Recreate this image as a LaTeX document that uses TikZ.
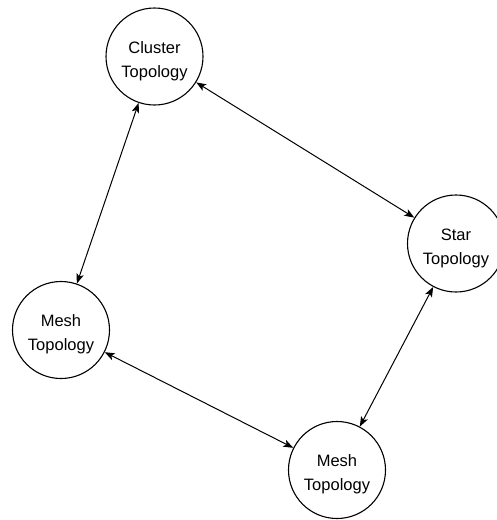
\documentclass[tikz,border=0pt]{standalone}
\usepackage{fontspec}
\setmainfont{Liberation Sans}
\usetikzlibrary{arrows.meta}
\begin{document}
\begin{tikzpicture}[x=1pt,y=-1pt,
  topo/.style={draw, circle, line width=1.1pt, minimum size=97pt, inner sep=0pt},
  caption/.style={align=center, font=\fontsize{16.5}{24}\selectfont, yshift=-4.5pt},
  link/.style={line width=1pt, {Stealth[length=10pt,width=7.5pt,inset=2.5pt]}-{Stealth[length=10pt,width=7.5pt,inset=2.5pt]}}]
  \useasboundingbox (0,0) rectangle (496,520);
  \node[topo, label={[caption]center:Cluster\\Topology}] (cluster) at (154.5,56.5) {};
  \node[topo, label={[caption]center:Star\\Topology}] (star) at (456,243.5) {};
  \node[topo, label={[caption]center:Mesh\\Topology}] (meshl) at (61,330) {};
  \node[topo, label={[caption]center:Mesh\\Topology}] (meshb) at (337,470) {};
  \draw[link] (cluster) -- (star);
  \draw[link] (cluster) -- (meshl);
  \draw[link] (meshl) -- (meshb);
  \draw[link] (star) -- (meshb);
\end{tikzpicture}
\end{document}
